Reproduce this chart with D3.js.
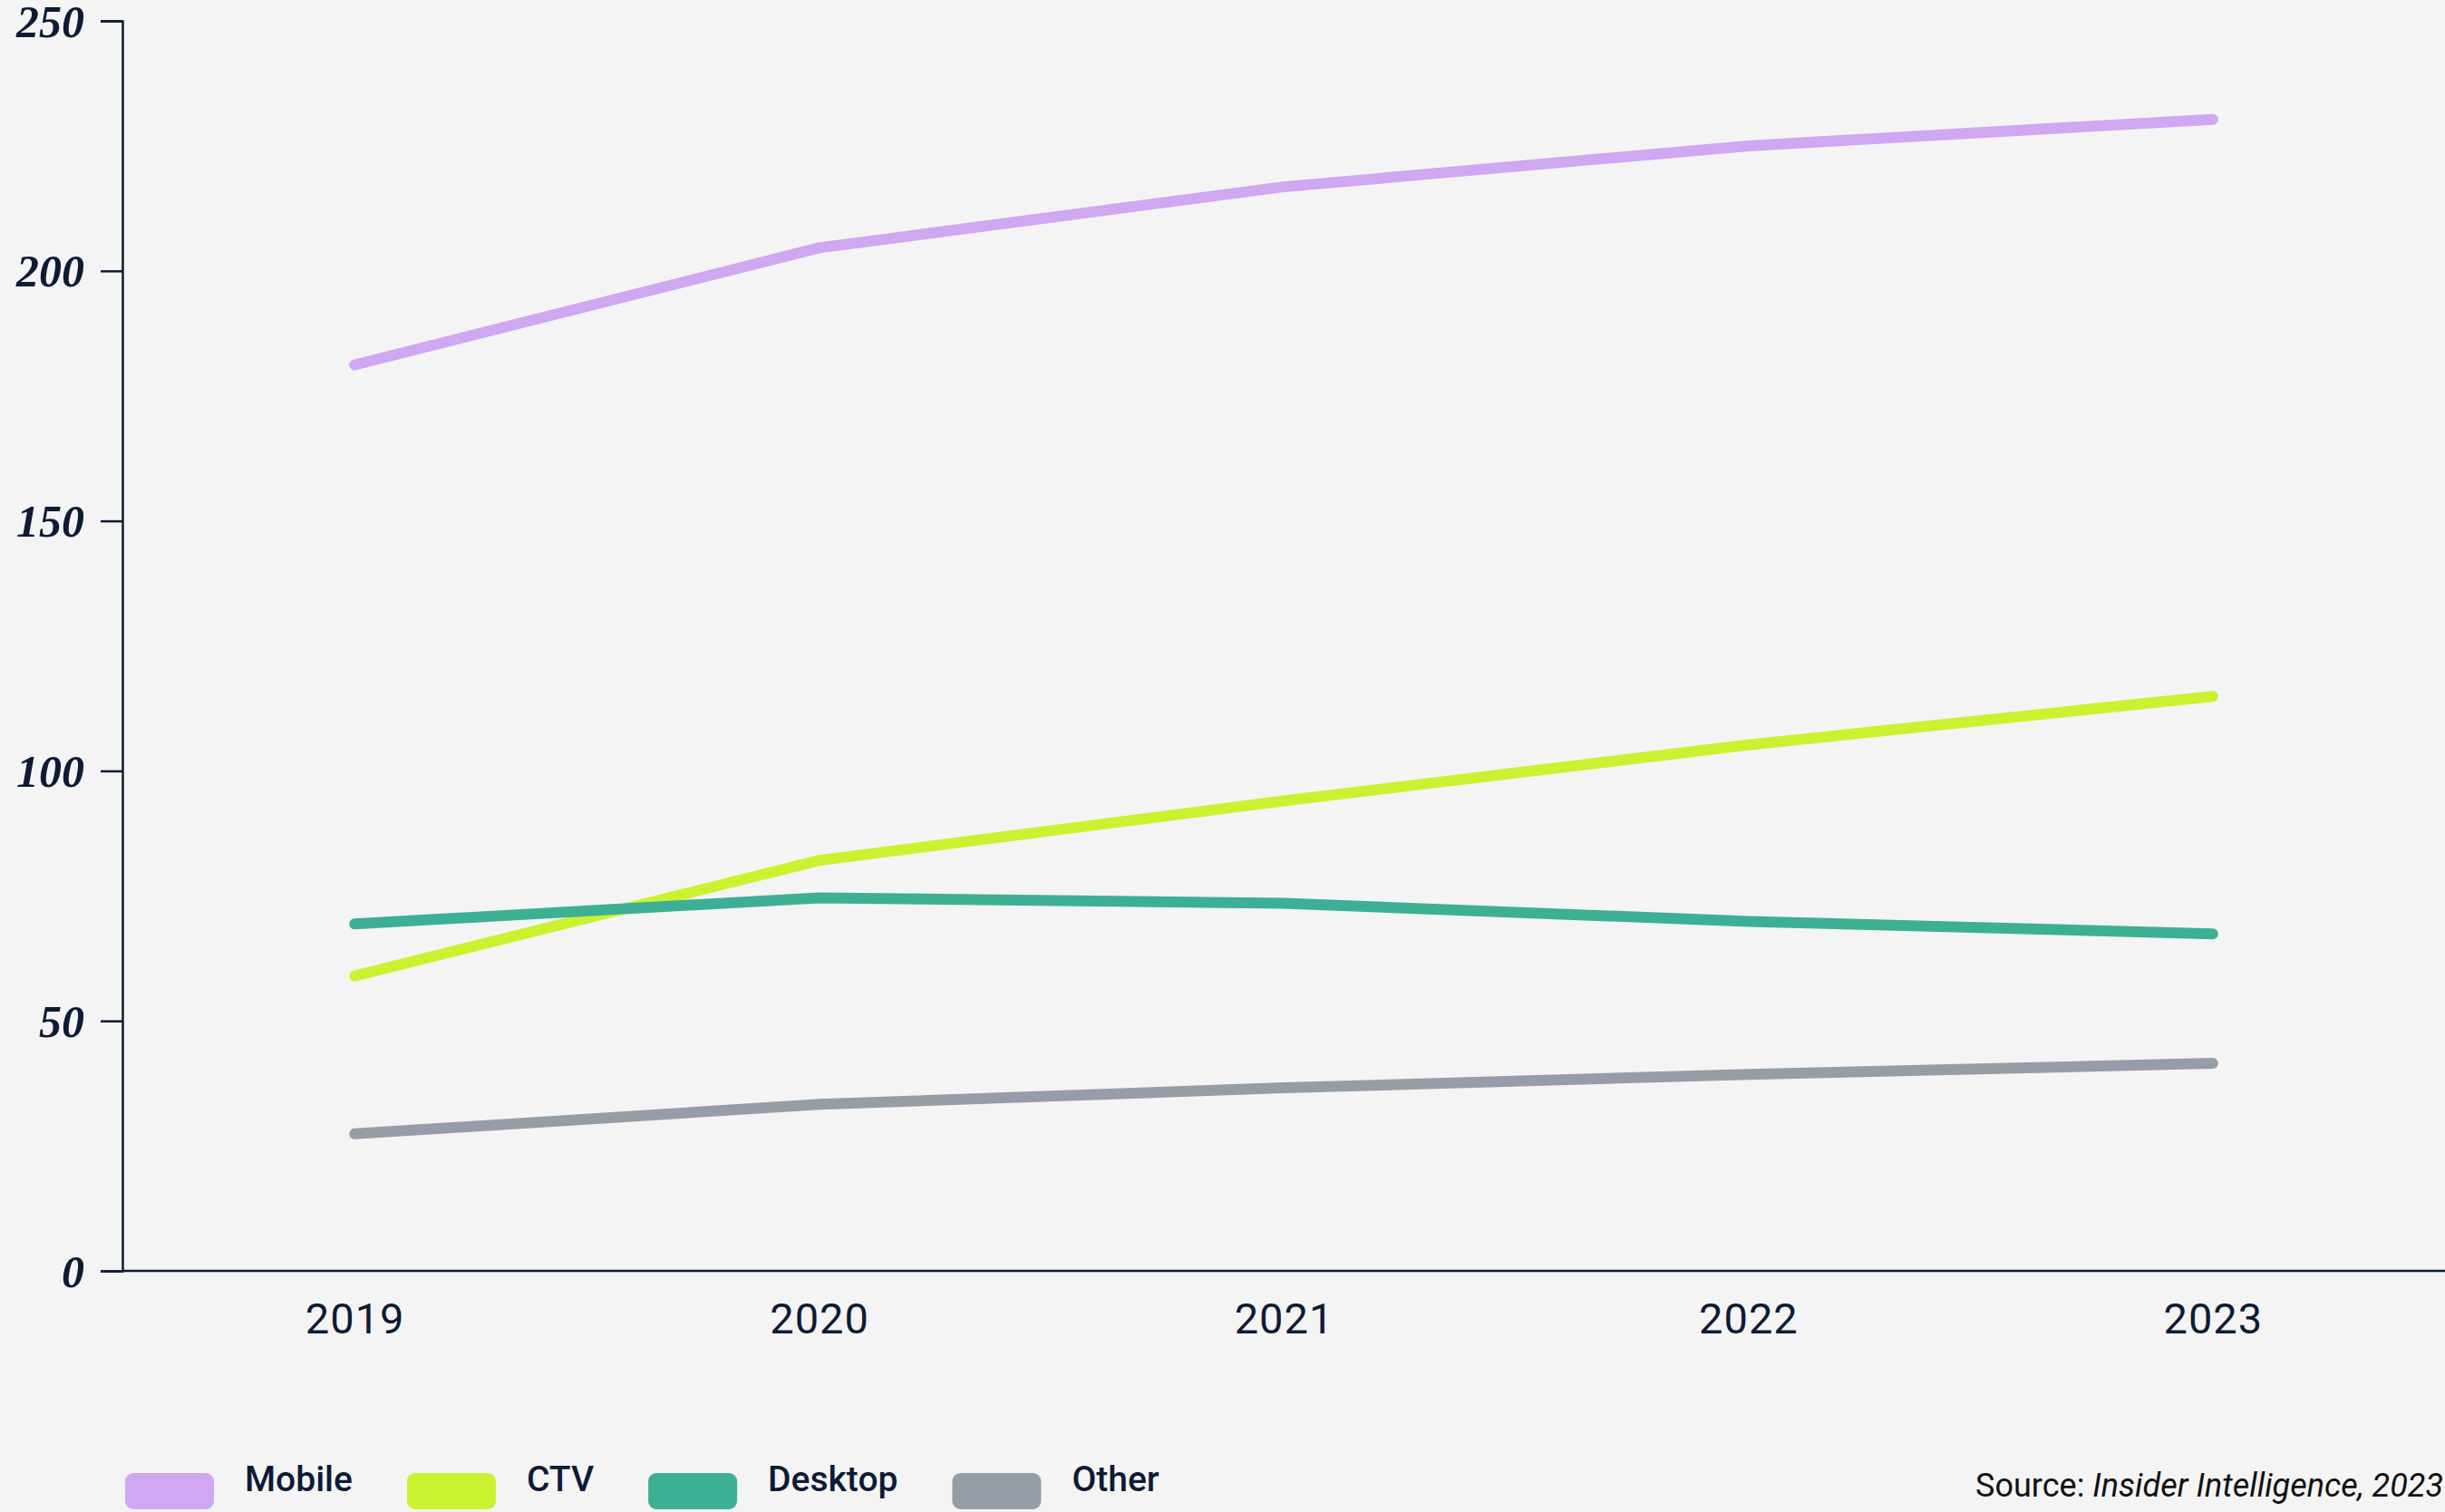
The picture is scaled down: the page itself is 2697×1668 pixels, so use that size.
<!DOCTYPE html>
<html>
<head>
<meta charset="utf-8">
<script src="https://cdn.jsdelivr.net/npm/d3@7"></script>
<style>
  html, body { margin: 0; padding: 0; background: #f4f4f4; }
</style>
</head>
<body>
<div id="chart-container"></div>
<script>
// Chart data
const years = ["2019", "2020", "2021", "2022", "2023"];
const mobile = [181.2, 204.6, 216.8, 225.0, 230.3];
const ctv = [59.0, 82.1, 94.0, 105.2, 114.9];
const desktop = [69.4, 74.6, 73.5, 69.9, 67.4];
const other = [27.4, 33.3, 36.6, 39.3, 41.5];
const yTicks = [0, 50, 100, 150, 200, 250];
const seriesNames = ["Mobile", "CTV", "Desktop", "Other"];
const seriesColors = ["#d0a7f1", "#cbf230", "#3daf95", "#959ea7"];

const series = [
  { name: "Mobile", values: mobile, color: seriesColors[0] },
  { name: "CTV", values: ctv, color: seriesColors[1] },
  { name: "Desktop", values: desktop, color: seriesColors[2] },
  { name: "Other", values: other, color: seriesColors[3] }
];

const W = 2697, H = 1668;
const margin = { top: 23, right: 0, bottom: 266, left: 135 };
const navy = "#0d1b35";

const svg = d3.select("#chart-container")
  .append("svg")
  .attr("width", W)
  .attr("height", H);

svg.append("rect").attr("width", W).attr("height", H).attr("fill", "#f4f4f4");

const xScale = d3.scalePoint()
  .domain(years)
  .range([margin.left, W - margin.right])
  .padding(0.5);

const yScale = d3.scaleLinear()
  .domain([0, 250])
  .range([H - margin.bottom, margin.top]);

// Y axis
const yAxis = svg.append("g")
  .attr("transform", `translate(${margin.left},0)`)
  .call(d3.axisLeft(yScale).tickValues(yTicks).tickSize(24).tickPadding(18).tickFormat(d3.format("d")));
yAxis.select(".domain").attr("stroke", navy).attr("stroke-width", 2.5);
yAxis.selectAll(".tick line").attr("stroke", navy).attr("stroke-width", 2.5);
yAxis.selectAll(".tick text")
  .attr("fill", navy)
  .attr("dy", "0.34em")
  .style("font-family", "'Liberation Serif', 'DejaVu Serif', serif")
  .style("font-style", "italic")
  .style("font-weight", "bold")
  .style("font-size", "50px");

// X axis
const xAxis = svg.append("g")
  .attr("transform", `translate(0,${yScale(0)})`)
  .call(d3.axisBottom(xScale).tickSize(0).tickPadding(36));
xAxis.select(".domain").attr("stroke", navy).attr("stroke-width", 2.5)
  .attr("d", `M${margin.left},0H${W}`);
xAxis.selectAll(".tick text")
  .attr("fill", navy)
  .style("font-family", "Roboto, 'Noto Sans', sans-serif")
  .style("font-size", "47px")
  .style("letter-spacing", "1px");

// Lines
const line = d3.line()
  .x((d, i) => xScale(years[i]))
  .y(d => yScale(d));

svg.selectAll(".series")
  .data(series)
  .join("path")
  .attr("class", "series")
  .attr("fill", "none")
  .attr("stroke", d => d.color)
  .attr("stroke-width", 12)
  .attr("stroke-linecap", "round")
  .attr("stroke-linejoin", "round")
  .attr("d", d => line(d.values));

// Legend
const legend = svg.append("g").attr("transform", "translate(138,1625)");
let lx = 0;
seriesNames.forEach((name, i) => {
  const item = legend.append("g").attr("transform", `translate(${lx},0)`);
  item.append("rect")
    .attr("width", 98)
    .attr("height", 40)
    .attr("rx", 9)
    .attr("fill", seriesColors[i]);
  const t = item.append("text")
    .attr("x", 132)
    .attr("y", 20)
    .attr("fill", navy)
    .style("font-family", "Roboto, 'Noto Sans', sans-serif")
    .style("font-weight", "500")
    .style("font-size", "39px")
    .text(name);
  lx += 132 + t.node().getComputedTextLength() + 60;
});

// Source note
const src = svg.append("text")
  .attr("x", W - 2)
  .attr("y", 1651)
  .attr("text-anchor", "end")
  .attr("fill", "#111")
  .style("font-family", "Roboto, 'Noto Sans', sans-serif")
  .style("font-size", "36px");
src.append("tspan").text("Source: ");
src.append("tspan").style("font-style", "italic").text("Insider Intelligence, 2023");
</script>
</body>
</html>
